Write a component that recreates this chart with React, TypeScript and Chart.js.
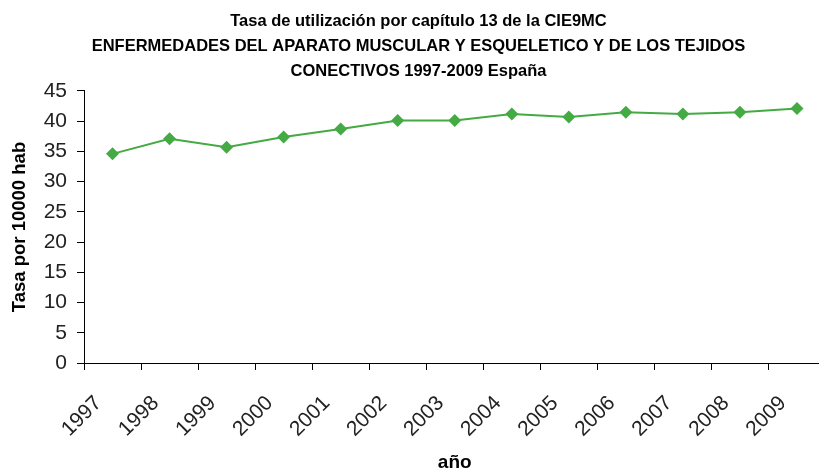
import React, { useEffect, useRef } from "react";
import { Chart, registerables } from "chart.js";

Chart.register(...registerables);

const years = ["1997", "1998", "1999", "2000", "2001", "2002", "2003", "2004", "2005", "2006", "2007", "2008", "2009"];
const tasa = [34.6, 37.1, 35.7, 37.4, 38.7, 40.1, 40.1, 41.2, 40.7, 41.5, 41.2, 41.5, 42.1];
const titleLines = [
  "Tasa de utilización por capítulo 13 de la CIE9MC",
  "ENFERMEDADES DEL APARATO MUSCULAR Y ESQUELETICO Y DE LOS TEJIDOS",
  "CONECTIVOS 1997-2009 España",
];
const yTitle = "Tasa por 10000 hab";
const xTitle = "año";

const CW = 832;
const CH = 470;

export default function App() {
  const ref = useRef<HTMLCanvasElement | null>(null);
  useEffect(() => {
    if (!ref.current) return;
    const font = "'Liberation Sans', Arial, Helvetica, sans-serif";
    const chart = new Chart(ref.current, {
      type: "line",
      data: {
        labels: years,
        datasets: [
          {
            data: tasa,
            borderColor: "#44aa44",
            backgroundColor: "#44aa44",
            borderWidth: 2,
            pointStyle: "rectRot",
            pointRadius: 6.5,
            pointBorderWidth: 0,
            pointBackgroundColor: "#44aa44",
            tension: 0,
          },
        ],
      },
      options: {
        responsive: false,
        animation: false,
        devicePixelRatio: 1,
        layout: { padding: { left: 6, right: 1, top: 0, bottom: 0 } },
        plugins: {
          legend: { display: false },
          tooltip: { enabled: false },
          title: {
            display: true,
            text: titleLines,
            color: "#000",
            font: { family: font, size: 16.5, weight: "bold", lineHeight: 1.515 },
            padding: { top: 8.5, bottom: 7.5 },
          },
        },
        scales: {
          x: {
            type: "category",
            offset: true,
            grid: {
              display: true,
              drawOnChartArea: false,
              drawTicks: true,
              tickLength: 7,
              color: "#000",
              offset: true,
            },
            border: { display: true, color: "#000", width: 1 },
            ticks: {
              color: "#222",
              font: { family: font, size: 21 },
              maxRotation: 45,
              minRotation: 45,
              autoSkip: false,
              padding: 21,
              labelOffset: -14,
            },
            title: {
              display: true,
              text: xTitle,
              color: "#000",
              font: { family: font, size: 19, weight: "bold", lineHeight: 1 },
              padding: { top: 0, bottom: -2 },
            },
            afterFit: (s: any) => {
              s.height = 107;
              s.paddingLeft = 0;
              s.paddingRight = 0;
            },
          },
          y: {
            min: 0,
            max: 45,
            grid: {
              display: true,
              drawOnChartArea: false,
              drawTicks: true,
              tickLength: 7,
              color: "#000",
            },
            border: { display: true, color: "#000", width: 1 },
            ticks: {
              stepSize: 5,
              color: "#222",
              font: { family: font, size: 21 },
              padding: 10,
            },
            title: {
              display: true,
              text: yTitle,
              color: "#000",
              font: { family: font, size: 18.5, weight: "bold", lineHeight: 1.2 },
              padding: { top: 3, bottom: 4 },
            },
            afterFit: (s: any) => {
              s.width = 78;
            },
          },
        },
      },
    });
    return () => chart.destroy();
  }, []);
  return (
    <div style={{ position: "fixed", left: 0, top: 0, width: 819, height: 470, overflow: "hidden", background: "#fff" }}>
      <canvas ref={ref} width={CW} height={CH} style={{ display: "block", width: CW, height: CH }} />
    </div>
  );
}
